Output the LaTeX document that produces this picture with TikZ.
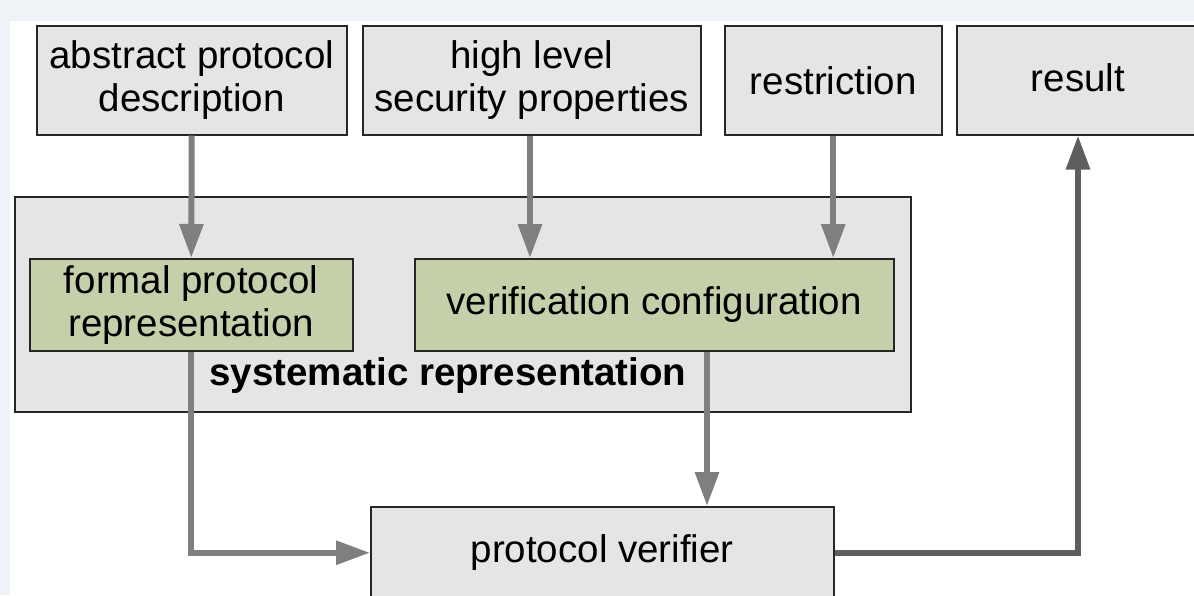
\documentclass[tikz,border=0pt]{standalone}
\usepackage{fontspec}
\setmainfont{Liberation Sans}
\usetikzlibrary{arrows.meta}
\definecolor{bgblue}{HTML}{EFF3F7}
\definecolor{boxgray}{HTML}{E5E5E5}
\definecolor{boxgreen}{HTML}{C5CFA9}
\definecolor{arrgray}{HTML}{7F7F7F}
\definecolor{arrdark}{HTML}{5E5E5E}
\tikzset{
  box/.style={draw=black!85, line width=1.5pt, fill=boxgray, anchor=north west, align=center,
    inner sep=0pt, font=\fontsize{38.5}{43}\selectfont},
  gbox/.style={box, fill=boxgreen},
  arr/.style={draw=arrgray, line width=6pt, -{Triangle[width=23pt,length=34pt]}},
  arrd/.style={arr, draw=arrdark},
}
\begin{document}
\begin{tikzpicture}[x=1pt,y=-1pt]
\useasboundingbox (0,0) rectangle (1194,595);
\fill[bgblue] (0,0) rectangle (1194,595);
\fill[white] (10,21) rectangle (1194,595);
\begin{scope}
\clip (0,0) rectangle (1194,595);
\node[box, minimum width=310pt, minimum height=109pt] (abs) at (36,25) {abstract protocol\\description};
\node[box, minimum width=338pt, minimum height=109pt] (high) at (362,25) {high level\\security properties};
\node[box, minimum width=217pt, minimum height=109pt] (restr) at (724,25) {restriction};
\node[box, minimum width=250pt, minimum height=109pt] (result) at (956,25) {};
\node[font=\fontsize{38.5}{43}\selectfont, inner sep=0pt] (restxt) at (1078,78) {result};
\node[box, minimum width=896pt, minimum height=215pt] (sys) at (14,196) {};
\node[font=\bfseries\fontsize{38.5}{43}\selectfont, inner sep=0pt] (systxt) at (448,376) {systematic representation};
\node[gbox, minimum width=323pt, minimum height=92pt] (formal) at (29,258) {formal protocol\\representation};
\node[gbox, minimum width=479pt, minimum height=92pt] (verif) at (414,258) {verification configuration};
\node[box, minimum width=463pt, minimum height=92pt] (verifier) at (370,506) {protocol verifier};
\coordinate (hx) at (530,0);
\coordinate (vx) at (707,0);
\coordinate (rx) at (1078,0);
\draw[arr] (abs.south) -- (formal.north);
\draw[arr] (high.south -| hx) -- (verif.north -| hx);
\draw[arr] (restr.south) -- (verif.north -| restr.south);
\draw[arr] (formal.south) |- (verifier.west);
\draw[arr] (verif.south -| vx) -- (verifier.north -| vx);
\draw[arrd] (verifier.east) -| (result.south -| rx);
\end{scope}
\end{tikzpicture}
\end{document}
